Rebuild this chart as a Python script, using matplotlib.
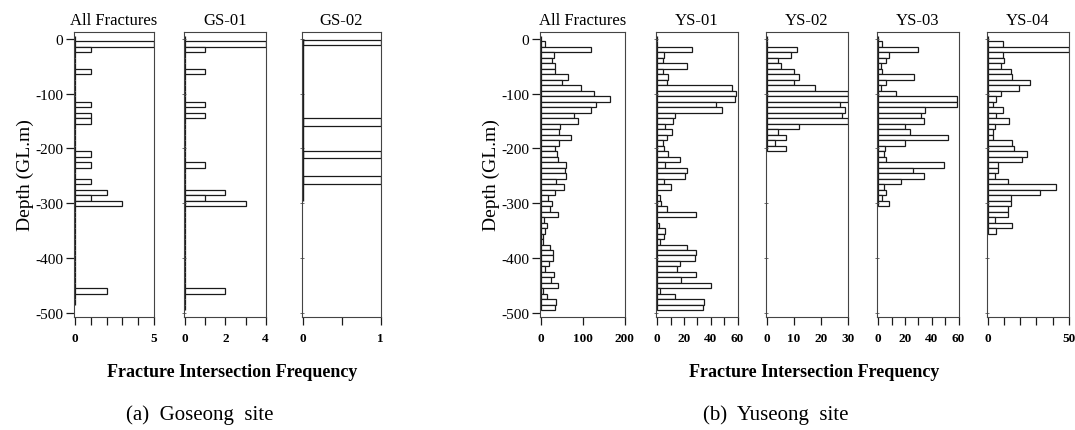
import matplotlib.pyplot as plt
import numpy as np

plt.rcParams['font.family'] = ['Liberation Serif', 'DejaVu Serif']
plt.rcParams['axes.unicode_minus'] = False

# fracture counts per 10 m depth bin, first bin centred at 0 m, then -10, -20 ...
bin_m = 10

gs_all = [0, 5, 1, 0, 0, 0, 1, 0, 0, 0,
          0, 0, 1, 0, 1, 1, 0, 0, 0, 0,
          0, 1, 0, 1, 0, 0, 1, 0, 2, 1,
          3, 0, 0, 0, 0, 0, 0, 0, 0, 0,
          0, 0, 0, 0, 0, 0, 2, 0, 0]
gs01 = [0, 4, 1, 0, 0, 0, 1, 0, 0, 0,
        0, 0, 1, 0, 1, 0, 0, 0, 0, 0,
        0, 0, 0, 1, 0, 0, 0, 0, 2, 1,
        3, 0, 0, 0, 0, 0, 0, 0, 0, 0,
        0, 0, 0, 0, 0, 0, 2, 0, 0, 0]
# GS-02 was logged with uneven intervals
gs02_depth = [-7, -152, -211, -257]
gs02_thick = [8, 16, 14, 14]
gs02_freq = [1, 1, 1, 1]
gs02_bottom = -295

ys_all = [0, 8, 120, 31, 25, 33, 33, 63, 49, 96,
          126, 164, 132, 120, 79, 88, 44, 43, 71, 43,
          33, 37, 40, 60, 57, 60, 35, 55, 33, 15,
          25, 21, 40, 6, 13, 9, 5, 3, 21, 29,
          29, 19, 10, 31, 23, 40, 3, 13, 35, 33]
ys01 = [0, 0, 26, 5, 4, 22, 4, 8, 7, 56,
        59, 58, 44, 48, 13, 12, 6, 11, 7, 4,
        5, 8, 17, 6, 22, 21, 5, 10, 0, 2,
        3, 7, 29, 0, 1, 6, 5, 2, 22, 29,
        28, 17, 15, 29, 18, 40, 2, 13, 35, 34]
ys02 = [0, 0, 11, 9, 4, 5, 10, 12, 10, 18,
        30, 30, 27, 29, 28, 30, 12, 4, 7, 3,
        7]
ys03 = [0, 3, 30, 8, 6, 2, 3, 27, 6, 2,
        13, 59, 59, 35, 32, 34, 20, 24, 52, 20,
        5, 4, 6, 49, 26, 34, 17, 4, 6, 3,
        8]
ys04 = [0, 9, 50, 9, 10, 8, 14, 15, 26, 19,
        8, 5, 3, 9, 5, 13, 4, 3, 3, 15,
        16, 24, 21, 6, 6, 4, 12, 42, 32, 14,
        14, 12, 12, 4, 15, 5]

depth_ticks = [0, -100, -200, -300, -400, -500]

W, H = 1075, 431
fig = plt.figure(figsize=(W / 100, H / 100), dpi=100)

edge = '#1a1a1a'


def panel(x0, x1, title, xmax, major, minor, first=False):
    top, bottom = 33, 318
    ax = fig.add_axes([x0 / W, 1 - bottom / H, (x1 - x0) / W, (bottom - top) / H])
    ax.set_xlim(-0.015 * xmax, xmax * 1.005)
    ax.set_ylim(-507, 12)
    ax.set_title(title, fontsize=12, pad=6)
    ax.set_xticks(major)
    ax.set_xticks(minor, minor=True)
    ax.tick_params(axis='x', which='both', direction='out', length=6, width=0.9,
                   labelsize=9.5, pad=5, color=edge)
    for lab in ax.get_xticklabels():
        lab.set_fontweight('bold')
    ax.set_yticks(depth_ticks)
    if first:
        ax.tick_params(axis='y', direction='out', length=6, width=0.9, labelsize=11, pad=2, color=edge)
        ax.set_ylabel('Depth (GL.m)', fontsize=14, labelpad=1)
    else:
        ax.tick_params(axis='y', direction='inout', length=3, width=0.6, labelleft=False, color='#555555')
    for sp in ax.spines.values():
        sp.set_linewidth(0.8)
        sp.set_color('#444444')
    return ax


def hist(ax, freq):
    depth = -bin_m * np.arange(len(freq))
    ax.barh(depth, freq, height=bin_m, color='white', edgecolor=edge, linewidth=0.9)


# (a) Goseong
ax = panel(74, 154, 'All Fractures', 5, [0, 5], [1, 2, 3, 4], first=True)
hist(ax, gs_all)
ax = panel(184, 266, 'GS-01', 4, [0, 2, 4], [1, 3])
hist(ax, gs01)
ax = panel(302, 381, 'GS-02', 1, [0, 1], [0.5])
ax.vlines(0, gs02_bottom, 0, color=edge, linewidth=1.0)
ax.barh(gs02_depth, gs02_freq, height=gs02_thick, color='white', edgecolor=edge, linewidth=0.9)

# (b) Yuseong
ax = panel(540, 625, 'All Fractures', 200, [0, 100, 200], [], first=True)
hist(ax, ys_all)
ax = panel(656, 738, 'YS-01', 60, [0, 20, 40, 60], [10, 30, 50])
hist(ax, ys01)
ax = panel(766, 848, 'YS-02', 30, [0, 10, 20, 30], [])
hist(ax, ys02)
ax = panel(877, 959, 'YS-03', 60, [0, 20, 40, 60], [10, 30, 50])
hist(ax, ys03)
ax = panel(987, 1069, 'YS-04', 50, [0, 50], [10, 20, 30, 40])
hist(ax, ys04)

fig.text(232 / W, 1 - 373 / H, 'Fracture Intersection Frequency', ha='center', va='center',
         fontsize=13, fontweight='bold')
fig.text(814 / W, 1 - 373 / H, 'Fracture Intersection Frequency', ha='center', va='center',
         fontsize=13, fontweight='bold')
fig.text(200 / W, 1 - 415 / H, '(a)  Goseong  site', ha='center', va='center', fontsize=15)
fig.text(776 / W, 1 - 415 / H, '(b)  Yuseong  site', ha='center', va='center', fontsize=15)

fig.savefig('out.png', dpi=100)
